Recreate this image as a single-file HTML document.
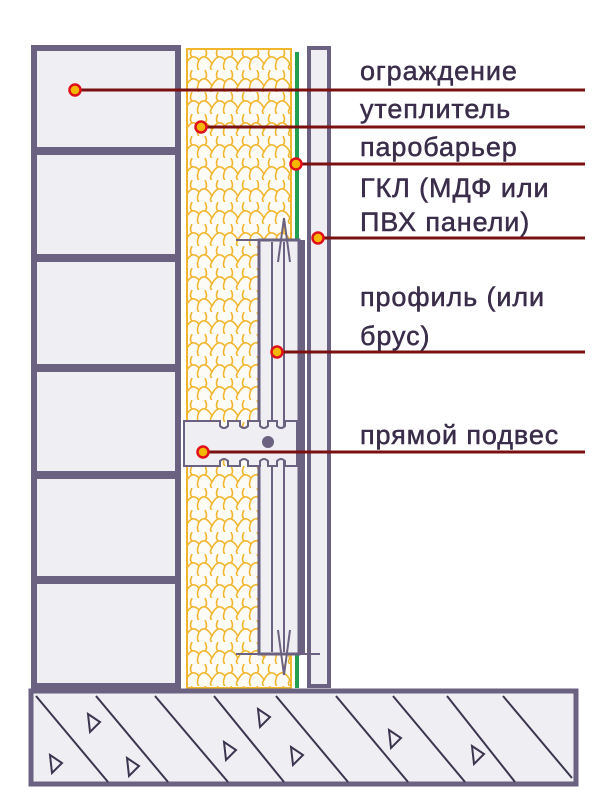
<!DOCTYPE html>
<html><head><meta charset="utf-8"><style>
html,body{margin:0;padding:0;background:#fff;width:600px;height:806px;overflow:hidden}
text{font-family:"Liberation Sans","DejaVu Sans",sans-serif;font-size:27px;letter-spacing:0.9px;fill:#3a2d4a;stroke:#3a2d4a;stroke-width:0.5}
</style></head><body>
<svg width="600" height="806" viewBox="0 0 600 806" xmlns="http://www.w3.org/2000/svg">
<defs>
<pattern id="ins" width="26" height="22" patternUnits="userSpaceOnUse" x="186" y="48">
<path d="M0 16 Q6 4 13 12 Q19 4 26 16 M13 12 Q10 20 13 22 M0 16 Q-3 20 0 22 M26 16 Q23 20 26 22 M6 0 Q3 6 6 9 M19 0 Q22 6 19 9" fill="none" stroke="#f1b62e" stroke-width="1.6"/>
</pattern>
</defs>
<rect x="34" y="48" width="144" height="638" fill="#efeef2" stroke="#6b6180" stroke-width="6"/>
<g fill="#6b6180">
<rect x="34" y="147" width="144" height="8"/>
<rect x="34" y="254" width="144" height="8"/>
<rect x="34" y="364" width="144" height="8"/>
<rect x="34" y="471" width="144" height="8"/>
<rect x="34" y="576" width="144" height="8"/>
</g>
<rect x="187" y="49" width="104" height="639" fill="#fdfbf5" stroke="#f1b62e" stroke-width="2"/>
<rect x="188" y="50" width="102" height="637" fill="url(#ins)"/>
<rect x="295" y="52" width="4" height="636" fill="#22a050"/>
<rect x="309" y="48" width="20" height="638" fill="#efeef2" stroke="#6b6180" stroke-width="4"/>
<rect x="259" y="240" width="40" height="414" fill="#efeef2" stroke="#6b6180" stroke-width="3"/>
<rect x="299" y="240" width="6" height="414" fill="#6b6180"/>
<line x1="272" y1="242" x2="272" y2="652" stroke="#6b6180" stroke-width="2"/>
<line x1="284" y1="242" x2="284" y2="652" stroke="#6b6180" stroke-width="2"/>
<line x1="236" y1="240" x2="300" y2="240" stroke="#6b6180" stroke-width="2"/>
<line x1="236" y1="654" x2="320" y2="654" stroke="#6b6180" stroke-width="2"/>
<polyline points="278,262 284,218 290,262" fill="none" stroke="#6b6180" stroke-width="2"/>
<polyline points="278,630 284,675 290,630" fill="none" stroke="#6b6180" stroke-width="2"/>
<path d="M184 421 H220 v5 q4 4 8 0 v-5 H240 v5 q4 4 8 0 v-5 H260 v5 q4 4 8 0 v-5 H277 v5 q4 4 8 0 v-5 H297 V466 H285 v-5 q-4 -4 -8 0 v5 H268 v-5 q-4 -4 -8 0 v5 H248 v-5 q-4 -4 -8 0 v5 H228 v-5 q-4 -4 -8 0 v5 H184 Z" fill="#efeef2" stroke="#6b6180" stroke-width="2"/>
<circle cx="268" cy="442" r="6" fill="#6b6180"/>
<rect x="31" y="691" width="545" height="93" fill="#efeef2" stroke="#6b6180" stroke-width="5"/>
<g stroke="#3d3550" stroke-width="2">
<line x1="36" y1="696" x2="108" y2="782"/>
<line x1="96" y1="696" x2="168" y2="782"/>
<line x1="155" y1="696" x2="228" y2="782"/>
<line x1="214" y1="696" x2="284" y2="782"/>
<line x1="276" y1="696" x2="348" y2="782"/>
<line x1="336" y1="696" x2="408" y2="782"/>
<line x1="393" y1="696" x2="465" y2="782"/>
<line x1="447" y1="696" x2="515" y2="782"/>
<line x1="503" y1="696" x2="572" y2="778"/>
</g>
<g fill="none" stroke="#3d3550" stroke-width="2">
<path d="M50 755 l12 8 l-10 10 z"/>
<path d="M88 714 l12 8 l-10 10 z"/>
<path d="M127 758 l12 8 l-10 10 z"/>
<path d="M224 742 l12 8 l-10 10 z"/>
<path d="M258 709 l12 8 l-10 10 z"/>
<path d="M291 747 l12 8 l-10 10 z"/>
<path d="M389 730 l12 8 l-10 10 z"/>
<path d="M472 746 l12 8 l-10 10 z"/>
</g>
<g stroke="#7a1010" stroke-width="3">
<line x1="75" y1="90" x2="585" y2="90"/>
<line x1="201" y1="127" x2="585" y2="127"/>
<line x1="296" y1="164" x2="585" y2="164"/>
<line x1="318" y1="238" x2="585" y2="238"/>
<line x1="277" y1="352" x2="585" y2="352"/>
<line x1="203" y1="452" x2="585" y2="452"/>
</g>
<g fill="#f5b800" stroke="#e0101a" stroke-width="2.5">
<circle cx="75" cy="90" r="5.5"/>
<circle cx="201" cy="127" r="5.5"/>
<circle cx="296" cy="164" r="5.5"/>
<circle cx="318" cy="238" r="5.5"/>
<circle cx="277" cy="352" r="5.5"/>
<circle cx="203" cy="452" r="5.5"/>
</g>
<text x="360" y="80">ограждение</text>
<text x="360" y="118">утеплитель</text>
<text x="360" y="156">паробарьер</text>
<text x="360" y="197">ГКЛ (МДФ или</text>
<text x="360" y="231">ПВХ панели)</text>
<text x="360" y="306">профиль (или</text>
<text x="360" y="345">брус)</text>
<text x="360" y="444">прямой подвес</text>
</svg>
</body></html>
